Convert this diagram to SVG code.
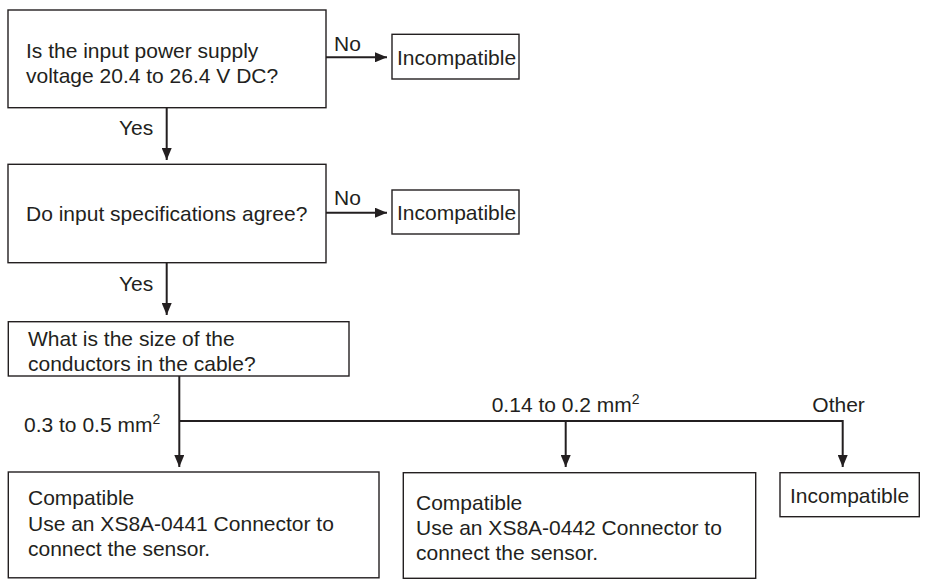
<svg xmlns="http://www.w3.org/2000/svg" width="948" height="581" viewBox="0 0 948 581">
  <style>
    .box { fill: #fff; stroke: #231f20; stroke-width: 1.4; }
    .t { font-family: "Liberation Sans", Arial, sans-serif; font-size: 21px; fill: #231f20; }
    .c { fill: none; stroke: #231f20; stroke-width: 2; }
  </style>
  <defs>
    <marker id="arr" viewBox="0 0 12 10" refX="12" refY="5" markerWidth="12" markerHeight="10" markerUnits="userSpaceOnUse" orient="auto">
      <path d="M0,0 L12,5 L0,10 z" fill="#231f20"/>
    </marker>
  </defs>
  <rect width="948" height="581" fill="#fff"/>

  <g id="q1">
    <rect class="box" x="8" y="10" width="318" height="97.7"/>
    <text class="t" x="26" y="57.5">Is the input power supply</text>
    <text class="t" x="26" y="82.7">voltage 20.4 to 26.4 V DC?</text>
  </g>
  <g id="inc1">
    <rect class="box" x="392" y="34.3" width="127" height="44.7"/>
    <text class="t" x="397" y="64.5">Incompatible</text>
  </g>
  <g id="q2">
    <rect class="box" x="8" y="164.3" width="318" height="98.4"/>
    <text class="t" x="26" y="221">Do input specifications agree?</text>
  </g>
  <g id="inc2">
    <rect class="box" x="392" y="190" width="127" height="44"/>
    <text class="t" x="397" y="220">Incompatible</text>
  </g>
  <g id="q3">
    <rect class="box" x="8.3" y="321.7" width="340.7" height="54.3"/>
    <text class="t" x="28" y="345.7">What is the size of the</text>
    <text class="t" x="28" y="371">conductors in the cable?</text>
  </g>
  <g id="comp1">
    <rect class="box" x="8.3" y="472" width="370.7" height="105.8"/>
    <text class="t" x="28" y="504.5">Compatible</text>
    <text class="t" x="28" y="530.5">Use an XS8A-0441 Connector to</text>
    <text class="t" x="28" y="556">connect the sensor.</text>
  </g>
  <g id="comp2">
    <rect class="box" x="403.3" y="472.7" width="352.4" height="105.6"/>
    <text class="t" x="416" y="509.5">Compatible</text>
    <text class="t" x="416" y="535">Use an XS8A-0442 Connector to</text>
    <text class="t" x="416" y="560">connect the sensor.</text>
  </g>
  <g id="inc3">
    <rect class="box" x="780" y="472.7" width="139.3" height="44"/>
    <text class="t" x="790" y="502.7">Incompatible</text>
  </g>

  <g id="connectors">
    <line class="c" x1="326" y1="57.3" x2="387" y2="57.3" marker-end="url(#arr)"/>
    <line class="c" x1="326" y1="212.7" x2="387" y2="212.7" marker-end="url(#arr)"/>
    <line class="c" x1="166.7" y1="107.7" x2="166.7" y2="160" marker-end="url(#arr)"/>
    <line class="c" x1="166.7" y1="262.7" x2="166.7" y2="315" marker-end="url(#arr)"/>
    <line class="c" x1="179.3" y1="376" x2="179.3" y2="467" marker-end="url(#arr)"/>
    <polyline class="c" points="179.3,421 842.7,421 842.7,467" marker-end="url(#arr)"/>
    <line class="c" x1="565.7" y1="421" x2="565.7" y2="467" marker-end="url(#arr)"/>
    <text class="t" x="334" y="50.5">No</text>
    <text class="t" x="334" y="205">No</text>
    <text class="t" x="119" y="135">Yes</text>
    <text class="t" x="119" y="291">Yes</text>
    <text class="t" x="24" y="432.3">0.3 to 0.5 mm<tspan font-size="14" dy="-8">2</tspan></text>
    <text class="t" x="491.7" y="411.7">0.14 to 0.2 mm<tspan font-size="14" dy="-8">2</tspan></text>
    <text class="t" x="812.3" y="411.7">Other</text>
  </g>
</svg>
